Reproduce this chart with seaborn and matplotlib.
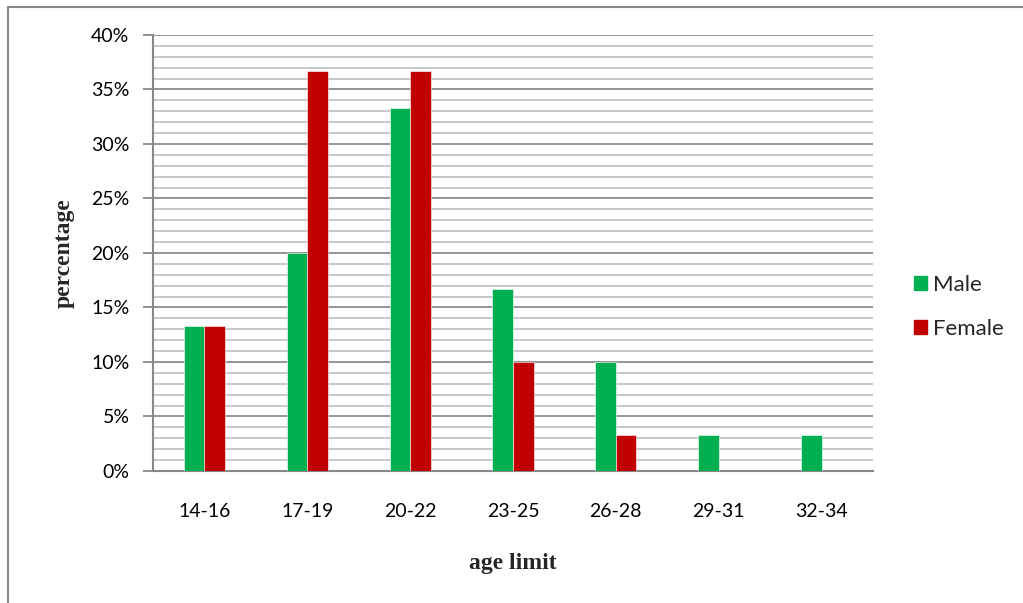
import numpy as np
import pandas as pd
import matplotlib
matplotlib.use("Agg")
import matplotlib.pyplot as plt
from matplotlib.ticker import MultipleLocator, PercentFormatter
from matplotlib.lines import Line2D
import seaborn as sns

age_groups = ["14-16", "17-19", "20-22", "23-25", "26-28", "29-31", "32-34"]
male = [13.3, 20.0, 33.3, 16.7, 10.0, 3.3, 3.3]
female = [13.3, 36.7, 36.7, 10.0, 3.3, 0.0, 0.0]
series = ["Male", "Female"]
colors = ["#00B050", "#C00000"]

df = pd.DataFrame({
    "age": age_groups * 2,
    "pct": male + female,
    "sex": ["Male"] * len(age_groups) + ["Female"] * len(age_groups),
})

sns.set_theme(style="white")
plt.rcParams["font.family"] = ["Lato", "DejaVu Sans"]

fig = plt.figure(figsize=(10.23, 6.03), dpi=100)
ax = fig.add_axes([0.1496, 0.219, 0.7038, 0.723])

# outer chart frame (top and left edges)
fig.add_artist(Line2D([8 / 1023, 8 / 1023], [0, 1 - 7 / 603], transform=fig.transFigure,
                      color="#888888", lw=1.5))
fig.add_artist(Line2D([8 / 1023, 1], [1 - 7 / 603, 1 - 7 / 603], transform=fig.transFigure,
                      color="#888888", lw=1.5))

ax.yaxis.set_minor_locator(MultipleLocator(1))
ax.yaxis.set_major_locator(MultipleLocator(5))
ax.grid(which="major", axis="y", color="#8C8C8C", lw=1.3, zorder=0)
ax.grid(which="minor", axis="y", color="#C4C4C4", lw=1.3, zorder=0)
ax.set_axisbelow(True)

sns.barplot(data=df, x="age", y="pct", hue="sex", hue_order=series,
            palette=colors, width=0.4, ax=ax, saturation=1,
            edgecolor="white", linewidth=0.4, legend=False, zorder=3)

ax.set_ylim(0, 40)
ax.set_xlim(-0.5, len(age_groups) - 0.5)
ax.yaxis.set_major_formatter(PercentFormatter(decimals=0))

for side in ["top", "right"]:
    ax.spines[side].set_visible(False)
for side in ["left", "bottom"]:
    ax.spines[side].set_color("#888888")
    ax.spines[side].set_linewidth(1.5)

ax.tick_params(axis="y", which="major", left=True, length=7, width=1.3,
               color="#888888", pad=10, labelsize=14, labelcolor="black")
ax.tick_params(axis="y", which="minor", left=False)
ax.tick_params(axis="x", bottom=False, pad=17, labelsize=14, labelcolor="black")

ax.set_xlabel("age limit", family="Liberation Serif", fontweight="bold",
              fontsize=17, labelpad=24)
ax.set_ylabel("percentage", family="Liberation Serif", fontweight="bold",
              fontsize=17, labelpad=12)

handles = [plt.Rectangle((0, 0), 1, 1, color=c) for c in colors]
fig.legend(handles, series, loc="center left", bbox_to_anchor=(0.874, 0.491),
           frameon=False, fontsize=16, handlelength=0.6, handleheight=0.6,
           handletextpad=0.25, labelspacing=1.05)

fig.savefig("out.png", dpi=100)
